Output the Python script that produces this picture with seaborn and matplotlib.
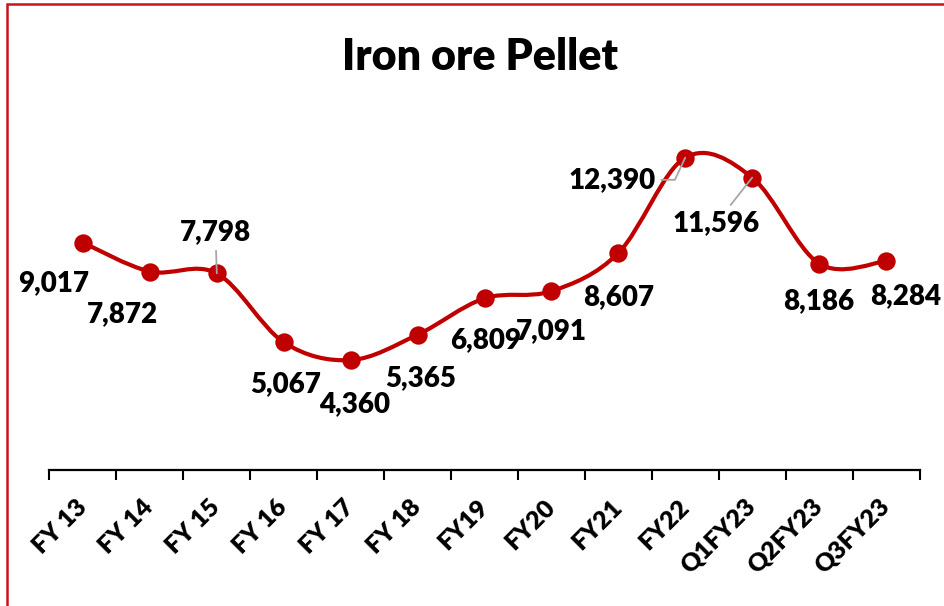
import numpy as np
import matplotlib
matplotlib.use("Agg")
import matplotlib.pyplot as plt
from matplotlib.path import Path
from matplotlib.patches import PathPatch, Rectangle
import seaborn as sns

# Pellet price series
periods = ["FY 13", "FY 14", "FY 15", "FY 16", "FY 17", "FY 18", "FY19",
           "FY20", "FY21", "FY22", "Q1FY23", "Q2FY23", "Q3FY23"]
prices = [9017, 7872, 7798, 5067, 4360, 5365, 6809,
          7091, 8607, 12390, 11596, 8186, 8284]

# value-label placement (offset from each marker, in points)
label_dx = [-21, -20, -1, 1, 3, 2, 1, 0, 0, -53, -26, 0, 14]
label_dy = [-29, -31, 30, -30, -32, -31, -30, -29, -32, -16, -33, -27, -25]
leader = [False, False, True, False, False, False, False,
          False, False, True, True, False, False]

RED = "#C00000"
WEIGHT = "heavy"

sns.set_theme(style="white")
plt.rcParams["font.family"] = ["Lato", "DejaVu Sans"]

fig = plt.figure(figsize=(9.44, 6.06), dpi=100)
ax = fig.add_axes([49.5 / 944, (606 - 470) / 606, 870 / 944, 353 / 606])

x = np.arange(len(prices), dtype=float)
y = np.array(prices, dtype=float)

# smoothed line: cubic Bezier segments through every point (Catmull-Rom style)
xp = np.concatenate([[x[0]], x, [x[-1]]])
yp = np.concatenate([[y[0]], y, [y[-1]]])
verts = [(x[0], y[0])]
codes = [Path.MOVETO]
for i in range(len(x) - 1):
    c1 = (x[i] + (xp[i + 2] - xp[i]) / 6, y[i] + (yp[i + 2] - yp[i]) / 6)
    c2 = (x[i + 1] - (xp[i + 3] - xp[i + 1]) / 6, y[i + 1] - (yp[i + 3] - yp[i + 1]) / 6)
    verts += [c1, c2, (x[i + 1], y[i + 1])]
    codes += [Path.CURVE4] * 3
ax.add_patch(PathPatch(Path(verts, codes), facecolor="none", edgecolor=RED,
                       lw=3.0, zorder=2, capstyle="round", joinstyle="round"))

sns.scatterplot(x=x, y=y, ax=ax, s=175, color=RED, edgecolor=RED,
                linewidth=0, zorder=3, legend=False)

for i, v in enumerate(prices):
    props = None
    if leader[i]:
        props = dict(arrowstyle="-", color="#A6A6A6", lw=1.3, shrinkA=2, shrinkB=0)
        if periods[i] == "FY22":
            props["connectionstyle"] = "angle,angleA=0,angleB=65,rad=0"
    ax.annotate(f"{v:,}", xy=(i, v), xytext=(label_dx[i], label_dy[i]),
                textcoords="offset points", ha="center", va="center",
                fontsize=20, fontweight=WEIGHT, color="black",
                arrowprops=props, zorder=4)

ax.set_xlim(-0.5, len(prices) - 0.5)
ax.set_ylim(0, 14000)
ax.set_yticks([])
ax.set_xticks(x)
ax.set_xticklabels(periods, rotation=45, ha="right", va="center",
                   rotation_mode="anchor", fontsize=18, fontweight=WEIGHT)
ax.set_xticks(np.arange(len(prices) + 1) - 0.5, minor=True)
ax.tick_params(axis="x", which="major", length=0, pad=24, colors="black")
ax.tick_params(axis="x", which="minor", bottom=True, length=7, width=1.5,
               direction="out", color="black")
for side in ["left", "right", "top"]:
    ax.spines[side].set_visible(False)
ax.spines["bottom"].set_color("black")
ax.spines["bottom"].set_linewidth(1.6)
ax.set_facecolor("none")

fig.text(480 / 944, 1 - 57 / 606, "Iron ore Pellet", ha="center", va="center",
         fontsize=31, fontweight=WEIGHT, color="black")

# chart frame
fig.patches.append(Rectangle((7 / 944, -0.1), 1.2, 1.1 - 4 / 606,
                             transform=fig.transFigure, fill=False,
                             edgecolor="#C8141A", lw=1.8, zorder=10))

fig.savefig("out.png", dpi=100)
